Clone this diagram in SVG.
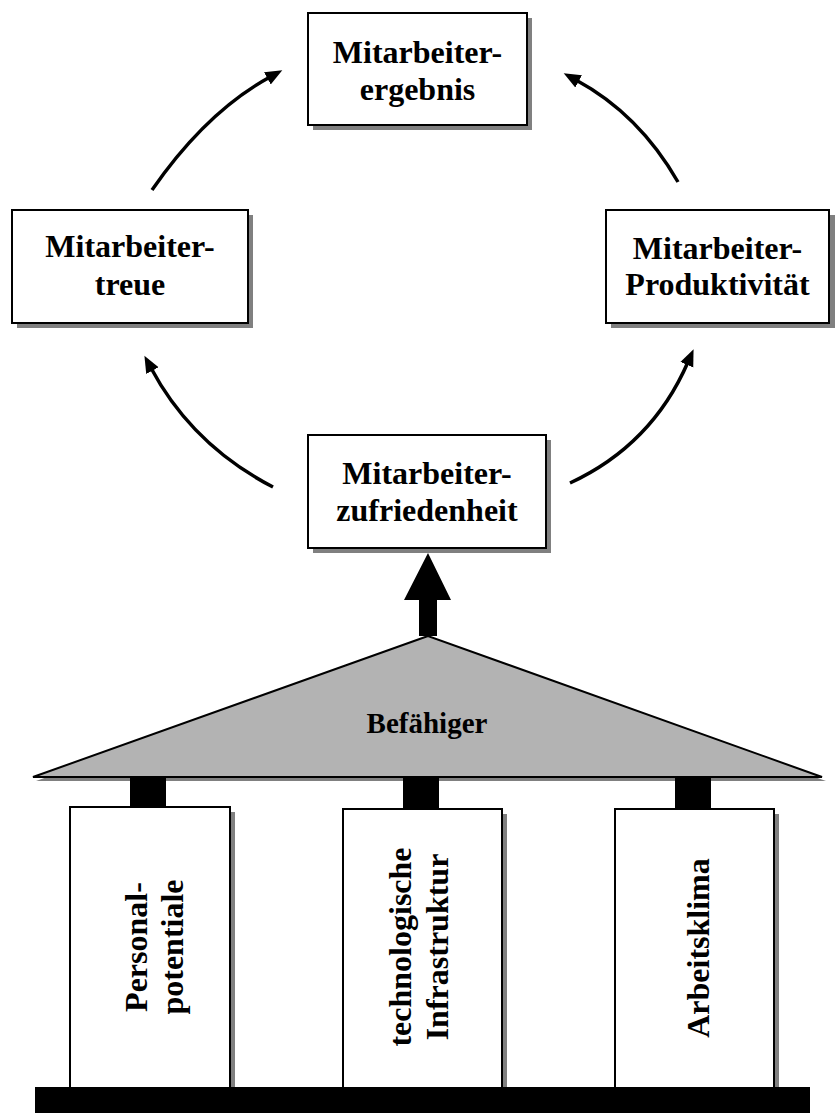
<svg xmlns="http://www.w3.org/2000/svg" width="835" height="1113" viewBox="0 0 835 1113">
  <style>
    .box { fill: #ffffff; stroke: #000000; stroke-width: 2; }
    .shadow { fill: #808080; }
    .label { font-family: "Liberation Serif", "Times New Roman", serif; font-weight: bold; font-size: 32px; text-anchor: middle; fill: #000000; }
    .roof-label { font-family: "Liberation Serif", "Times New Roman", serif; font-weight: bold; font-size: 29px; text-anchor: middle; fill: #000000; }
    .flow { fill: none; stroke: #000000; stroke-width: 3.5; }
  </style>
  <defs>
    <marker id="head" markerUnits="userSpaceOnUse" markerWidth="20" markerHeight="20" viewBox="0 0 20 20" refX="3" refY="10" orient="auto">
      <path d="M0,3 L17,10 L0,17 Z" fill="#000000"/>
    </marker>
  </defs>

  <rect width="835" height="1113" fill="#ffffff"/>

  <!-- cycle boxes -->
  <g id="ergebnis">
    <rect class="shadow" x="313" y="18" width="219" height="112"/>
    <rect class="box" x="308" y="13" width="219" height="112"/>
    <text class="label" x="417.5" y="63">Mitarbeiter-</text>
    <text class="label" x="417.5" y="100">ergebnis</text>
  </g>

  <g id="treue">
    <rect class="shadow" x="17" y="215" width="236" height="113"/>
    <rect class="box" x="12" y="210" width="236" height="113"/>
    <text class="label" x="130" y="257">Mitarbeiter-</text>
    <text class="label" x="130" y="295">treue</text>
  </g>

  <g id="produktivitaet">
    <rect class="shadow" x="611" y="215" width="224" height="113"/>
    <rect class="box" x="606" y="210" width="223" height="113"/>
    <text class="label" x="717.5" y="259">Mitarbeiter-</text>
    <text class="label" x="717.5" y="295">Produktivität</text>
  </g>

  <g id="zufriedenheit">
    <rect class="shadow" x="313" y="440" width="238" height="113"/>
    <rect class="box" x="308" y="435" width="238" height="113"/>
    <text class="label" x="427" y="484">Mitarbeiter-</text>
    <text class="label" x="427" y="521">zufriedenheit</text>
  </g>

  <!-- curved cycle arrows and the thick upward arrow -->
  <g id="connectors">
    <path class="flow" d="M152,190 Q206,112 270,77" marker-end="url(#head)"/>
    <path class="flow" d="M678,182 Q639,114 576,80" marker-end="url(#head)"/>
    <path class="flow" d="M273,487 Q192,445 151,368" marker-end="url(#head)"/>
    <path class="flow" d="M570,483 Q652,445 688,362" marker-end="url(#head)"/>
    <path d="M419,636 L419,600 L404,600 L428,553 L451,600 L437,600 L437,636 Z" fill="#000000"/>
  </g>

  <!-- roof -->
  <g id="befaehiger">
    <polygon points="431,640 36,781 826,781" fill="#808080"/>
    <polygon points="428,636 33,777 822,777" fill="#b3b3b3" stroke="#000000" stroke-width="2" stroke-linejoin="miter"/>
    <text class="roof-label" x="427" y="733">Befähiger</text>
  </g>

  <!-- pillar joints -->
  <g id="joints" fill="#000000">
    <rect x="130" y="777" width="36" height="31"/>
    <rect x="403" y="777" width="36" height="32"/>
    <rect x="675" y="777" width="36" height="32"/>
  </g>

  <!-- pillars -->
  <g id="personalpotentiale">
    <rect class="shadow" x="75" y="812" width="160" height="275"/>
    <rect class="box" x="70" y="807" width="160" height="281"/>
    <text class="label" transform="translate(147,947) rotate(-90)">Personal-</text>
    <text class="label" transform="translate(183,947) rotate(-90)">potentiale</text>
  </g>

  <g id="infrastruktur">
    <rect class="shadow" x="348" y="814" width="159" height="273"/>
    <rect class="box" x="343" y="809" width="159" height="279"/>
    <text class="label" transform="translate(411,947) rotate(-90)">technologische</text>
    <text class="label" transform="translate(448,947) rotate(-90)">Infrastruktur</text>
  </g>

  <g id="arbeitsklima">
    <rect class="shadow" x="620" y="814" width="159" height="273"/>
    <rect class="box" x="615" y="809" width="159" height="279"/>
    <text class="label" transform="translate(709,948) rotate(-90)">Arbeitsklima</text>
  </g>

  <!-- foundation -->
  <g id="fundament">
    <rect x="35" y="1087" width="775" height="26" fill="#000000"/>
  </g>
</svg>
